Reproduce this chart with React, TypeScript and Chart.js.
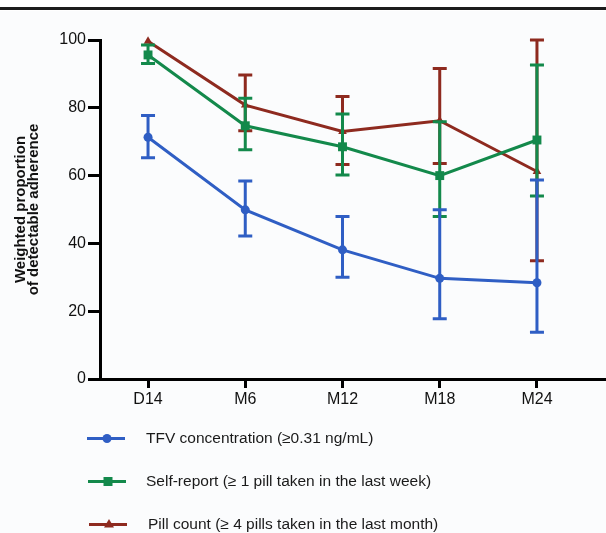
import React, { useEffect, useRef } from 'react';
import { Chart, registerables } from 'chart.js';

Chart.register(...registerables);

const categories = ['D14', 'M6', 'M12', 'M18', 'M24'];
const yTicks = [0, 20, 40, 60, 80, 100];

const tfvValues = [71.3, 49.9, 38.1, 29.7, 28.4];
const tfvLower = [65.3, 42.2, 30.0, 17.8, 13.8];
const tfvUpper = [77.7, 58.4, 47.9, 49.9, 58.7];

const selfValues = [95.6, 74.7, 68.5, 60.0, 70.5];
const selfLower = [93.1, 67.6, 60.2, 47.9, 54.0];
const selfUpper = [98.5, 82.8, 78.2, 75.9, 92.6];

const pillValues = [99.6, 80.8, 73.0, 76.2, 61.2];
const pillLower: (number | null)[] = [null, 73.2, 63.3, 63.6, 34.9];
const pillUpper: (number | null)[] = [null, 89.7, 83.3, 91.6, 100];

const seriesLabels = [
  'TFV concentration (\u22650.31 ng/mL)',
  'Self-report (\u2265 1 pill taken in the last week)',
  'Pill count (\u2265 4 pills taken in the last month)',
];
const seriesColors = ['#2f5ec4', '#13894b', '#8e2a1f'];
const seriesShapes = ['circle', 'rect', 'triangle'];

const FONT = "'Liberation Sans', Arial, Helvetica, sans-serif";

function drawMarker(ctx: CanvasRenderingContext2D, shape: string, x: number, y: number, color: string) {
  ctx.save();
  ctx.fillStyle = color;
  ctx.beginPath();
  if (shape === 'circle') {
    ctx.arc(x, y, 4.5, 0, Math.PI * 2);
  } else if (shape === 'rect') {
    ctx.rect(x - 4.5, y - 4.5, 9, 9);
  } else {
    ctx.moveTo(x, y - 5.5);
    ctx.lineTo(x + 5, y + 3);
    ctx.lineTo(x - 5, y + 3);
    ctx.closePath();
  }
  ctx.fill();
  ctx.restore();
}

const backgroundPlugin = {
  id: 'bgLine',
  beforeDraw(chart: any) {
    const { ctx, width, height } = chart;
    ctx.save();
    ctx.fillStyle = '#ffffff';
    ctx.fillRect(0, 0, width, height);
    ctx.fillStyle = '#fbfcfd';
    ctx.fillRect(0, 11, width, height - 11);
    ctx.fillStyle = '#1c1c1c';
    ctx.fillRect(0, 7, width, 3);
    ctx.restore();
  },
};

const errorBarPlugin = {
  id: 'errorBars',
  afterDatasetDraw(chart: any, args: any) {
    const ds = chart.data.datasets[args.index];
    const lo = ds.errLower as (number | null)[];
    const hi = ds.errUpper as (number | null)[];
    if (!lo || !hi) return;
    const ys = chart.scales.y;
    const ctx = chart.ctx;
    ctx.save();
    ctx.strokeStyle = ds.borderColor;
    ctx.lineWidth = 3;
    ctx.lineCap = 'butt';
    args.meta.data.forEach((pt: any, i: number) => {
      const l = lo[i];
      const h = hi[i];
      if (l == null || h == null) return;
      const x = pt.x;
      const y1 = ys.getPixelForValue(l);
      const y2 = ys.getPixelForValue(h);
      ctx.beginPath();
      ctx.moveTo(x, y1);
      ctx.lineTo(x, y2);
      ctx.moveTo(x - 7, y1);
      ctx.lineTo(x + 7, y1);
      ctx.moveTo(x - 7, y2);
      ctx.lineTo(x + 7, y2);
      ctx.stroke();
    });
    ctx.restore();
  },
};

const legendPlugin = {
  id: 'customLegend',
  afterDraw(chart: any) {
    const ctx = chart.ctx;
    const base = chart.chartArea.bottom + 59.5;
    ctx.save();
    chart.data.datasets.forEach((ds: any, i: number) => {
      const y = base + i * 43;
      const x0 = 87 + i;
      ctx.strokeStyle = ds.borderColor;
      ctx.lineWidth = 3;
      ctx.beginPath();
      ctx.moveTo(x0, y);
      ctx.lineTo(x0 + 38, y);
      ctx.stroke();
      drawMarker(ctx, seriesShapes[i], x0 + 20, y, ds.borderColor);
      ctx.fillStyle = '#1a1a1a';
      ctx.font = `15.5px ${FONT}`;
      ctx.textBaseline = 'middle';
      ctx.textAlign = 'left';
      ctx.fillText(ds.label, 146 + (i === 2 ? 2 : 0), y);
    });
    ctx.restore();
  },
};

export default function App() {
  const canvasRef = useRef<HTMLCanvasElement | null>(null);

  useEffect(() => {
    if (!canvasRef.current) return;
    const mk = (vals: number[]) => vals.map((v, i) => ({ x: i, y: v }));
    const values = [tfvValues, selfValues, pillValues];
    const lowers = [tfvLower, selfLower, pillLower];
    const uppers = [tfvUpper, selfUpper, pillUpper];
    const datasets = values.map((vals, i) => ({
      label: seriesLabels[i],
      data: mk(vals),
      borderColor: seriesColors[i],
      backgroundColor: seriesColors[i],
      borderWidth: 3,
      pointStyle: seriesShapes[i],
      pointRadius: i === 1 ? 6.3 : i === 2 ? 5 : 4.5,
      pointBorderWidth: 0,
      tension: 0,
      fill: false,
      clip: false,
      errLower: lowers[i],
      errUpper: uppers[i],
    }));

    const tickFont = { family: FONT, size: 16 };

    const chart = new Chart(canvasRef.current, {
      type: 'line',
      data: { datasets: datasets as any },
      plugins: [backgroundPlugin, errorBarPlugin, legendPlugin],
      options: {
        animation: false,
        responsive: false,
        layout: { autoPadding: false, padding: { left: 0, right: 0, top: 40, bottom: 114 } },
        plugins: {
          legend: { display: false },
          tooltip: { enabled: false },
        },
        scales: {
          x: {
            type: 'linear',
            min: -0.494,
            max: 4.71,
            afterBuildTicks: (s: any) => {
              s.ticks = categories.map((_, i) => ({ value: i }));
            },
            afterFit: (s: any) => {
              s.height = 40;
              s.paddingLeft = 0;
              s.paddingRight = 0;
            },
            ticks: {
              callback: (v: any) => categories[v as number],
              font: tickFont,
              color: '#111',
              padding: 2,
              autoSkip: false,
              maxRotation: 0,
            },
            grid: {
              display: true,
              drawOnChartArea: false,
              drawTicks: true,
              tickLength: 9,
              lineWidth: 3,
              color: '#000',
            },
            border: { display: true, width: 3, color: '#000' },
          },
          y: {
            type: 'linear',
            min: 0,
            max: 100,
            afterBuildTicks: (s: any) => {
              s.ticks = yTicks.map((v) => ({ value: v }));
            },
            afterFit: (s: any) => {
              s.width = 100;
            },
            ticks: { font: tickFont, color: '#111', padding: 2 },
            grid: {
              display: true,
              drawOnChartArea: false,
              drawTicks: true,
              tickLength: 12,
              lineWidth: 3,
              color: '#000',
            },
            border: { display: true, width: 3, color: '#000' },
            title: {
              display: true,
              text: ['Weighted proportion', 'of detectable adherence'],
              font: { family: FONT, size: 15, weight: 'bold', lineHeight: 0.9 },
              color: '#111',
              padding: { top: 14, bottom: 0 },
            },
          },
        },
      } as any,
    });
    return () => chart.destroy();
  }, []);

  return (
    <div style={{ position: 'fixed', left: 0, top: 0, width: 606, height: 533 }}>
      <canvas ref={canvasRef} width={606} height={533} style={{ display: 'block' }} />
    </div>
  );
}
